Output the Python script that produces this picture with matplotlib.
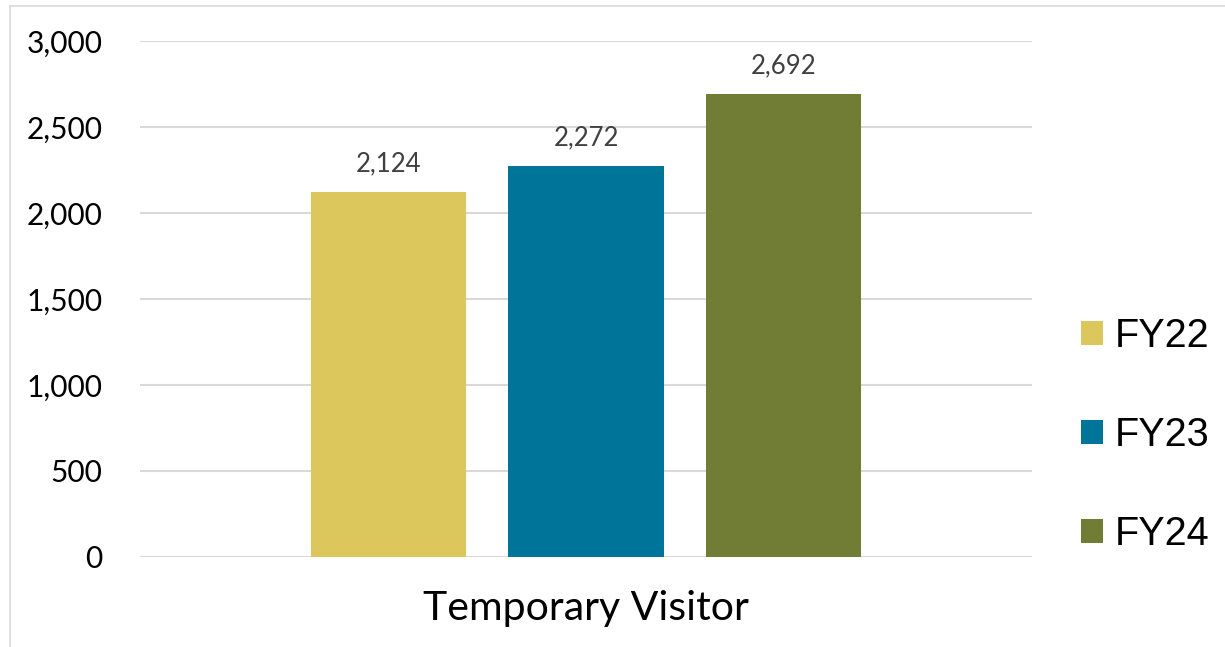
import matplotlib
matplotlib.use("Agg")
import matplotlib.pyplot as plt
from matplotlib.lines import Line2D
from matplotlib.ticker import FuncFormatter

category = "Temporary Visitor"
series = ["FY22", "FY23", "FY24"]
values = [2124, 2272, 2692]
colors = ["#DCC75C", "#007599", "#717C35"]
yticks = [0, 500, 1000, 1500, 2000, 2500, 3000]

W, H = 1225, 647
fig = plt.figure(figsize=(W / 100, H / 100), dpi=100)
ax = fig.add_axes([140 / W, (H - 557) / H, (1032 - 140) / W, (557 - 41) / H])

offsets = [-1, 0, 1]
bw = 0.785
bars = []
for off, v, c, s in zip(offsets, values, colors, series):
    b = ax.bar(off, v, width=bw, color=c, label=s, zorder=3)
    bars.append(b)
    ax.text(off, v + 90, f"{v:,}", ha="center", va="bottom",
            fontsize=18.5, color="#404040", family="Lato")

ax.set_xlim(-2.258, 2.258)
ax.set_ylim(0, 3000)
ax.set_yticks(yticks)
ax.yaxis.set_major_formatter(FuncFormatter(lambda v, p: f"{int(v):,}"))
ax.grid(axis="y", color="#d9d9d9", linewidth=1.5, zorder=0)
ax.set_xticks([0])
ax.set_xticklabels([category], fontsize=29.5, family="Lato")
ax.tick_params(axis="x", length=0, pad=24)
ax.tick_params(axis="y", length=0, pad=27, labelsize=21.5)
for lbl in ax.get_yticklabels():
    lbl.set_family("Lato")
for sp in ax.spines.values():
    sp.set_visible(False)

leg = fig.legend(handles=[b for b in bars], labels=series,
                 loc="center left", bbox_to_anchor=(1065 / W, (H - 435) / H),
                 frameon=False, prop={"family": "Liberation Sans", "size": 28.5},
                 handlelength=0.55, handleheight=0.55, handletextpad=0.3,
                 labelspacing=1.55, borderaxespad=0)

# light frame lines at top and left
fig.add_artist(Line2D([10 / W, 1], [(H - 6) / H, (H - 6) / H], color="#d9d9d9", lw=1.2, transform=fig.transFigure))
fig.add_artist(Line2D([10 / W, 10 / W], [0, (H - 6) / H], color="#d9d9d9", lw=1.2, transform=fig.transFigure))

fig.savefig("out.png", dpi=100)
